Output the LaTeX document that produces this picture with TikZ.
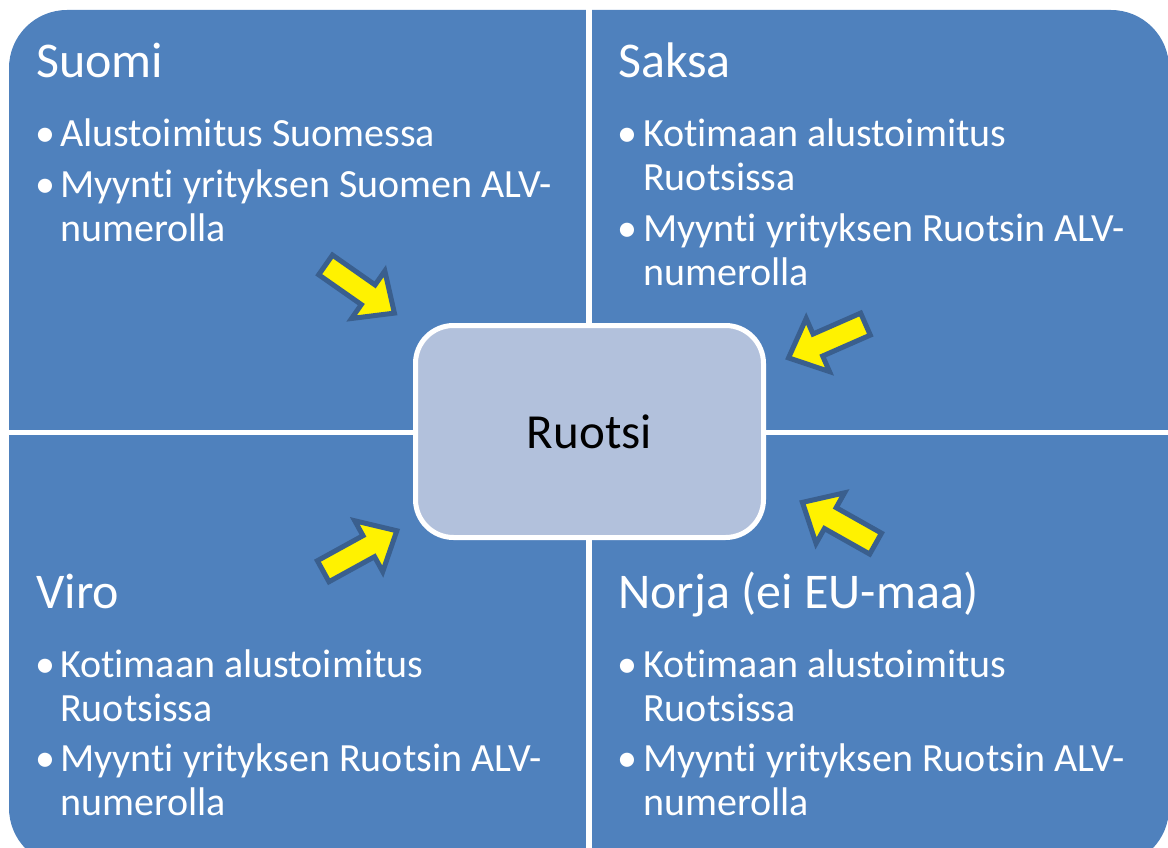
\documentclass[tikz,border=0pt]{standalone}
\usepackage{fontspec}
\setmainfont{Carlito}[Ligatures={NoCommon}]
\definecolor{qblue}{HTML}{4F81BD}
\definecolor{cfill}{HTML}{B2C1DC}
\definecolor{aline}{HTML}{3A5F8E}
\newcommand\blockarrow[2]{%
  \draw[yarrow, shift={#1}, rotate=#2] (-42,-12) -- (10,-12) -- (10,-29) -- (42,0) -- (10,29) -- (10,12) -- (-42,12) -- cycle;}
\begin{document}
\begin{tikzpicture}[x=1pt,y=-1pt,
  ttl/.style={anchor=base west, inner sep=0, text=white, font=\fontsize{50}{50}\selectfont},
  btext/.style={anchor=base west, inner sep=0, text=white, font=\fontsize{40}{40}\selectfont},
  bdot/.style={anchor=base, inner sep=0, text=white, font=\fontsize{40}{40}\selectfont},
  yarrow/.style={fill=yellow, draw=aline, line width=5pt, line join=miter},
  center box/.style={draw=white, line width=5pt, fill=cfill, rounded corners=38pt,
    minimum width=348pt, minimum height=212pt, inner sep=0, text=black,
    font=\fontsize{49}{49}\selectfont}]
\useasboundingbox (0,0) rectangle (1168,848);
\clip (0,0) rectangle (1168,848);
% quadrants
\fill[qblue, rounded corners=58pt] (9,10) rectangle (1169,866);
\draw[white, line width=5.5pt] (589,0) -- (589,848);
\draw[white, line width=5pt] (0,432) -- (1168,432);
% center
\node[center box] (ruotsi) at (589.5,431.5) {Ruotsi};
% arrows
\blockarrow{(360,289)}{-35}
\blockarrow{(827,341)}{203.7}
\blockarrow{(360,551)}{28.8}
\blockarrow{(839,523)}{150.6}
% Suomi
\node[ttl] (suomi) at (36,78) {Suomi};
\node[bdot] (sd1) at (45,147) {•};
\node[btext] (st1) at (60,147) {Alustoimitus Suomessa};
\node[bdot] (sd2) at (45,197) {•};
\node[btext] (st2) at (60,197) {Myynti yrityksen Suomen ALV-};
\node[btext] (st3) at (60,241) {numerolla};
% Saksa
\node[ttl] (saksa) at (618,78) {Saksa};
\node[bdot] (kd1) at (627,147) {•};
\node[btext] (kt1) at (643,147) {Kotimaan alustoimitus};
\node[btext] (kt2) at (643,191) {Ruotsissa};
\node[bdot] (kd2) at (627,241) {•};
\node[btext] (kt3) at (643,241) {Myynti yrityksen Ruotsin ALV-};
\node[btext] (kt4) at (643,285) {numerolla};
% Viro
\node[ttl] (viro) at (36,608) {Viro};
\node[bdot] (vd1) at (45,677) {•};
\node[btext] (vt1) at (60,677) {Kotimaan alustoimitus};
\node[btext] (vt2) at (60,721) {Ruotsissa};
\node[bdot] (vd2) at (45,771) {•};
\node[btext] (vt3) at (60,771) {Myynti yrityksen Ruotsin ALV-};
\node[btext] (vt4) at (60,815) {numerolla};
% Norja
\node[ttl] (norja) at (618,608) {Norja (ei EU-maa)};
\node[bdot] (nd1) at (627,677) {•};
\node[btext] (nt1) at (643,677) {Kotimaan alustoimitus};
\node[btext] (nt2) at (643,721) {Ruotsissa};
\node[bdot] (nd2) at (627,771) {•};
\node[btext] (nt3) at (643,771) {Myynti yrityksen Ruotsin ALV-};
\node[btext] (nt4) at (643,815) {numerolla};
\end{tikzpicture}
\end{document}
